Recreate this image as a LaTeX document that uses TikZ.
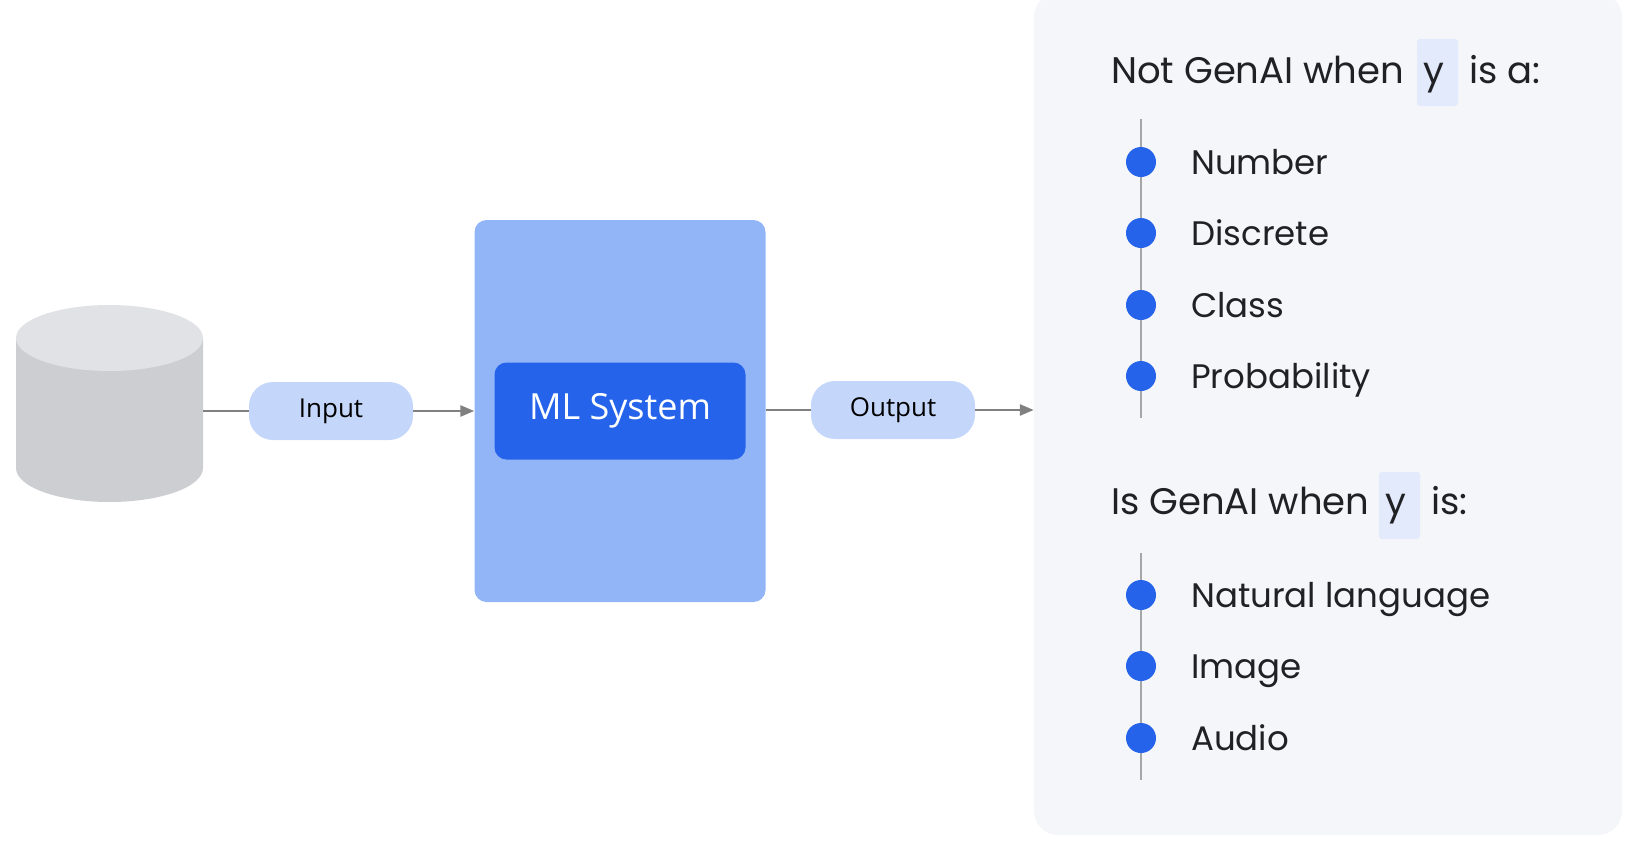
\documentclass[tikz,border=0pt]{standalone}
\usepackage{fontspec}
\setmainfont{Open Sans}
\newfontfamily\headfont{Poppins}
\usetikzlibrary{arrows.meta,shapes.geometric}
\definecolor{cylside}{HTML}{CDCED2}
\definecolor{cyltop}{HTML}{E1E2E5}
\definecolor{bigbox}{HTML}{92B5F8}
\definecolor{mlblue}{HTML}{2563EB}
\definecolor{pill}{HTML}{C4D7FA}
\definecolor{panel}{HTML}{F5F6F9}
\definecolor{yhl}{HTML}{E2EAFC}
\definecolor{conn}{HTML}{808080}
\definecolor{txt}{HTML}{202124}
\tikzset{
  x=1pt,y=-1pt,
  pillst/.style={fill=pill,rounded corners=24pt,minimum width=164pt,minimum height=58pt,font=\fontsize{26}{30}\selectfont,text=black},
  conn/.style={draw=conn,line width=2.5pt},
  arr/.style={conn,-{Triangle[length=14pt,width=11pt]}},
  dot/.style={circle,fill=mlblue,minimum size=30pt,inner sep=0pt},
  vline/.style={draw=conn!70,line width=2pt},
  item/.style={anchor=base west,inner sep=0pt,font=\headfont\fontsize{34}{40}\selectfont,text=txt},
  head/.style={anchor=base west,inner sep=0pt,font=\headfont\fontsize{37}{44}\selectfont,text=txt},
  yb/.style={fill=yhl,rounded corners=3pt}
}
\begin{document}
\begin{tikzpicture}
\useasboundingbox (0,0) rectangle (1639,849);
% cylinder
\fill[cylside] (16,338) -- (16,468) arc[x radius=93.5,y radius=34,start angle=180,end angle=0] -- (203,338) -- cycle;
\fill[cyltop] (109.5,338) ellipse[x radius=93.5,y radius=33];
\coordinate (db) at (203,411);
% boxes
\node[fill=bigbox,rounded corners=12pt,minimum width=291pt,minimum height=382pt,inner sep=0pt] (sys) at (620,411) {};
\node[fill=mlblue,rounded corners=12pt,minimum width=251pt,minimum height=97pt,text=white,font=\fontsize{36}{40}\selectfont] (ml) at (620,411) {ML System};
\node[pillst] (in) at (331,411) {Input};
\node[pillst] (out) at (893,410) {Output};
% panel
\node[fill=panel,rounded corners=24pt,minimum width=588pt,minimum height=842pt,inner sep=0pt] (panel) at (1328,414) {};
% connectors
\draw[conn] (db) -- (in.west);
\draw[arr] (in.east) -- (sys.west|-in.east);
\draw[conn] (sys.east|-out.west) -- (out.west);
\draw[arr] (out.east) -- (panel.west|-out.east);
% headings
\fill[yb] (1417,39) rectangle (1458,106);
\node[head] (h1a) at (1111,83) {Not GenAI when};
\node[head] (h1b) at (1423,83) {y};
\node[head] (h1c) at (1469,83) {is a:};
\fill[yb] (1379,472) rectangle (1420,539);
\node[head] (h2a) at (1111,514) {Is GenAI when};
\node[head] (h2b) at (1385,514) {y};
\node[head] (h2c) at (1431,514) {is:};
% lists
\coordinate (l1t) at (1141,119); \coordinate (l1b) at (1141,418);
\draw[vline] (l1t) -- (l1b);
\coordinate (l2t) at (1141,553); \coordinate (l2b) at (1141,780);
\draw[vline] (l2t) -- (l2b);
\foreach \yy/\t [count=\i] in {162/Number,233/Discrete,305/Class,376/Probability,595/Natural language,666/Image,738/Audio}{
  \node[dot] (d\i) at (1141,\yy) {};
  \node[item] (t\i) at (1191,\yy+12) {\t};
}
\end{tikzpicture}
\end{document}
